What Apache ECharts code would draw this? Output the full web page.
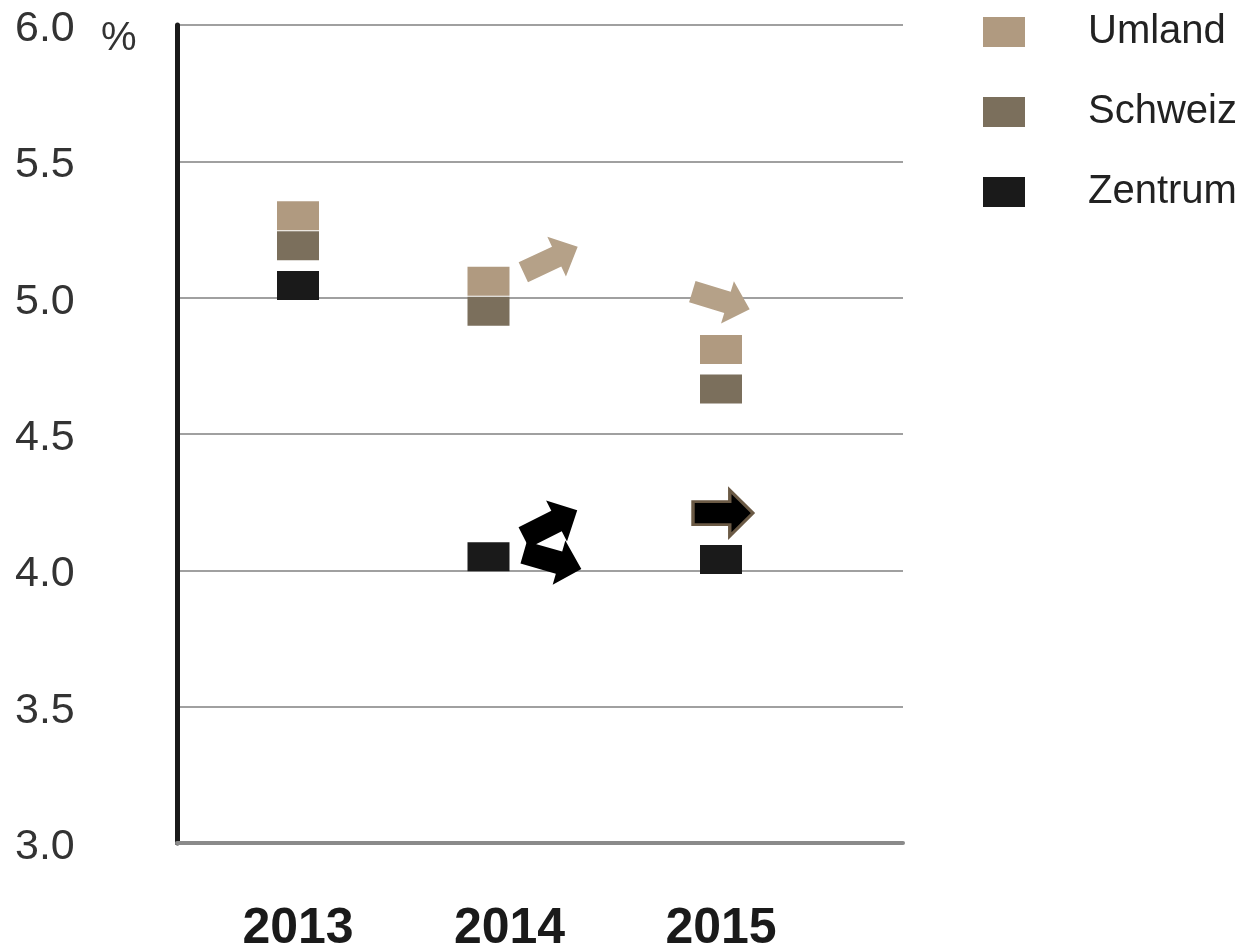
<!DOCTYPE html>
<html>
<head>
<meta charset="utf-8">
<script src="https://cdn.jsdelivr.net/npm/echarts@6/dist/echarts.min.js"></script>
<style>
  html, body { margin: 0; padding: 0; background: #fff; }
  #container { width: 1243px; height: 949px; }
</style>
</head>
<body>
<div id="container"></div>
<script>
const years = ['2013', '2014', '2015'];
const umland = [5.30, 5.06, 4.81];
const schweiz = [5.19, 4.95, 4.665];
const zentrum = [5.045, 4.05, 4.04];

// Trendpfeile
const umlandTrendYears = ['2014', '2015'];
const umlandTrendValues = [5.14, 4.99];
const zentrumTrendYears = ['2014', '2014', '2015'];
const zentrumTrendValues = [4.17, 4.035, 4.21];

const FONT = "'Liberation Sans Narrow', 'Liberation Sans', sans-serif";
const ARROW = 'path://M0,12 L38,12 L38,0 L62,24 L38,48 L38,36 L0,36 Z';

const myChart = echarts.init(document.getElementById('container'));

// 2014 sits a little left of the even category slot
const shift2014 = (v, i) => ({ value: v, symbolOffset: i === 1 ? [-21, 0] : [0, 0] });

const umlandArrowStyle = [
    { off: [41, 0], rot: 25 },
    { off: [0, 0], rot: -17 }
];
const zentrumArrowStyle = [
    { off: [41, 0], rot: 27, border: null },
    { off: [43, 0], rot: -16, border: null },
    { off: [2, 0], rot: 0, border: '#6b5a45' }
];

const option = {
    animation: false,
    backgroundColor: '#fff',
    color: ['#b09a80', '#7b6f5c', '#1a1a1a'],
    legend: {
        orient: 'vertical',
        left: 978,
        top: 7,
        itemWidth: 42,
        itemHeight: 30,
        itemGap: 40,
        icon: 'rect',
        data: ['Umland', 'Schweiz', 'Zentrum'],
        itemStyle: { opacity: 1 },
        textStyle: {
            fontFamily: FONT,
            fontSize: 40,
            color: '#222',
            padding: [0, 0, 0, 58]
        }
    },
    graphic: [{
        type: 'text',
        left: 101,
        top: 19,
        style: { text: '%', fontFamily: FONT, fontSize: 40, fill: '#333' }
    }],
    grid: [
        { left: 177, right: 340, top: 25, bottom: 106, outerBoundsMode: 'none' },
        { left: 298, right: 522, top: 25, bottom: 106, outerBoundsMode: 'none' }
    ],
    xAxis: [
        {
            gridIndex: 0,
            type: 'value',
            min: 0,
            max: 1,
            axisLine: { show: true, lineStyle: { color: '#8a8a8a', width: 4 } },
            axisTick: { show: false },
            axisLabel: { show: false },
            splitLine: { show: false }
        },
        {
            gridIndex: 1,
            type: 'category',
            data: years,
            boundaryGap: false,
            axisLine: { show: false },
            axisTick: { show: false },
            splitLine: { show: false },
            axisLabel: {
                margin: 61,
                fontFamily: FONT,
                fontWeight: 'bold',
                fontSize: 50,
                color: '#1a1a1a',
                formatter: (v) => v
            }
        }
    ],
    yAxis: [
        {
            gridIndex: 0,
            type: 'value',
            min: 3,
            max: 6,
            interval: 0.5,
            axisLine: { show: true, lineStyle: { color: '#1a1a1a', width: 5 } },
            axisTick: { show: false },
            splitLine: { lineStyle: { color: '#a0a0a0', width: 2 } },
            axisLabel: {
                align: 'left',
                verticalAlign: 'top',
                lineHeight: 8,
                margin: 162,
                fontFamily: FONT,
                fontSize: 43,
                color: '#333',
                formatter: (v) => v.toFixed(1)
            }
        },
        {
            gridIndex: 1,
            type: 'value',
            min: 3,
            max: 6,
            interval: 0.5,
            show: false
        }
    ],
    series: [
        {
            name: 'Umland',
            type: 'scatter',
            xAxisIndex: 1,
            yAxisIndex: 1,
            symbol: 'rect',
            symbolSize: [42, 29],
            itemStyle: { opacity: 1 },
            data: umland.map(shift2014)
        },
        {
            name: 'Schweiz',
            type: 'scatter',
            xAxisIndex: 1,
            yAxisIndex: 1,
            symbol: 'rect',
            symbolSize: [42, 29],
            itemStyle: { opacity: 1 },
            data: schweiz.map(shift2014)
        },
        {
            name: 'Zentrum',
            type: 'scatter',
            xAxisIndex: 1,
            yAxisIndex: 1,
            symbol: 'rect',
            symbolSize: [42, 29],
            itemStyle: { opacity: 1 },
            data: zentrum.map(shift2014)
        },
        {
            name: 'Trend Umland',
            type: 'scatter',
            xAxisIndex: 1,
            yAxisIndex: 1,
            symbol: ARROW,
            symbolSize: [60, 44],
            itemStyle: { color: '#b5a188', opacity: 1 },
            data: umlandTrendValues.map((v, i) => ({
                value: [umlandTrendYears[i], v],
                symbolOffset: umlandArrowStyle[i].off,
                symbolRotate: umlandArrowStyle[i].rot
            }))
        },
        {
            name: 'Trend Zentrum',
            type: 'scatter',
            xAxisIndex: 1,
            yAxisIndex: 1,
            symbol: ARROW,
            symbolSize: [60, 46],
            itemStyle: { color: '#000', opacity: 1 },
            data: zentrumTrendValues.map((v, i) => {
                const s = zentrumArrowStyle[i];
                const item = {
                    value: [zentrumTrendYears[i], v],
                    symbolOffset: s.off,
                    symbolRotate: s.rot
                };
                if (s.border) item.itemStyle = { borderColor: s.border, borderWidth: 3 };
                return item;
            })
        }
    ]
};
myChart.setOption(option);
window.addEventListener('resize', () => {
    myChart.resize()
})
</script>
</body>
</html>
